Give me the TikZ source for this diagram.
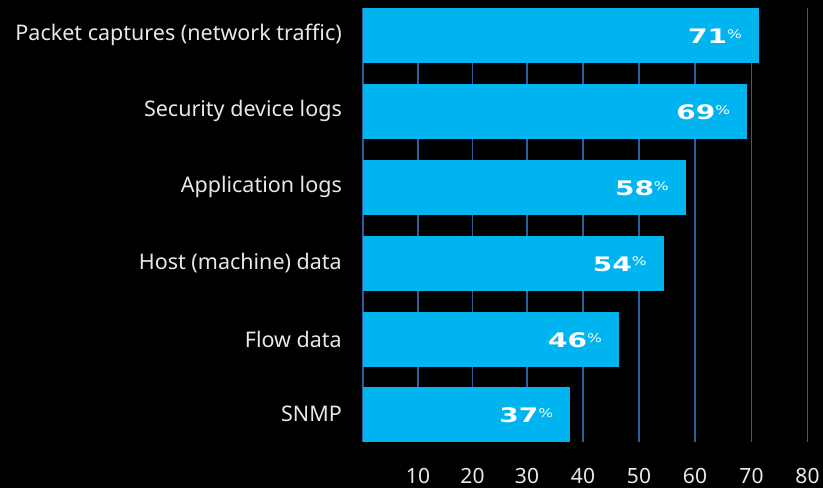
\documentclass[tikz,border=0pt]{standalone}
\usepackage{fontspec}
\setmainfont{Noto Sans}
\newfontfamily\valfont{DejaVu Sans}
\usetikzlibrary{positioning}
\definecolor{barcyan}{HTML}{00B4F0}
\definecolor{gridblue}{HTML}{2F5E9E}
\definecolor{labelgray}{HTML}{E8E8E8}
\newcommand{\pct}[1]{\scalebox{1.4}[1]{\valfont\bfseries\fontsize{20}{20}\selectfont #1}{\valfont\fontsize{12}{12}\selectfont\raisebox{5.5pt}{\scalebox{1.3}[1]{\%}}}}

\begin{document}
\begin{tikzpicture}[x=1pt, y=-1pt,
    bar/.style = {fill=barcyan, inner sep=0pt, minimum height=54.7pt, anchor=west},
    cat/.style = {text=labelgray, font=\fontsize{21.5}{21.5}\selectfont, inner sep=0pt},
    val/.style = {text=white, inner sep=0pt, anchor=east},
    tick/.style = {text=labelgray, font=\fontsize{21}{21}\selectfont, inner sep=0pt},
    gridline/.style = {draw=gridblue, line width=1.3pt}]
    \useasboundingbox (0,0) rectangle (823,488);
    \fill[black] (0,0) rectangle (823,488);
    % grid
    \draw[gridline] (363,8) -- (363,442);
    \draw[gridline] (418,8) -- (418,442);
    \draw[gridline] (472.5,8) -- (472.5,442);
    \draw[gridline] (527,8) -- (527,442);
    \draw[gridline] (583,8) -- (583,442);
    \draw[gridline] (639,8) -- (639,442);
    \draw[gridline] (695,8) -- (695,442);
    \draw[gridline] (751.5,8) -- (751.5,442);
    \draw[gridline] (807.5,8) -- (807.5,442);
    \node[tick] (t10) at (418,476) {10};
    \node[tick] (t20) at (472.5,476) {20};
    \node[tick] (t30) at (527,476) {30};
    \node[tick] (t40) at (583,476) {40};
    \node[tick] (t50) at (639,476) {50};
    \node[tick] (t60) at (695,476) {60};
    \node[tick] (t70) at (751.5,476) {70};
    \node[tick] (t80) at (807.5,476) {80};
    % bars
    \node[bar, minimum width=395.7pt] (b1) at (363,35.3) {};
    \node[bar, minimum width=384pt] (b2) at (363,111.3) {};
    \node[bar, minimum width=322.6pt] (b3) at (363,187.3) {};
    \node[bar, minimum width=300.4pt] (b4) at (363,263.3) {};
    \node[bar, minimum width=255.7pt] (b5) at (363,339.3) {};
    \node[bar, minimum width=207pt] (b6) at (363,414.3) {};
    \node[val] (v1) at ([xshift=-17pt,yshift=-1pt]b1.east) {\pct{71}};
    \node[val] (v2) at ([xshift=-17pt,yshift=-1pt]b2.east) {\pct{69}};
    \node[val] (v3) at ([xshift=-17pt,yshift=-1pt]b3.east) {\pct{58}};
    \node[val] (v4) at ([xshift=-17pt,yshift=-1pt]b4.east) {\pct{54}};
    \node[val] (v5) at ([xshift=-17pt,yshift=-1pt]b5.east) {\pct{46}};
    \node[val] (v6) at ([xshift=-17pt,yshift=-1pt]b6.east) {\pct{37}};
    % categories
    \node[cat, left=21pt of b1.west] (c1) {Packet captures (network traffic)};
    \node[cat, left=21pt of b2.west] (c2) {Security device logs};
    \node[cat, left=21pt of b3.west] (c3) {Application logs};
    \node[cat, left=21pt of b4.west] (c4) {Host (machine) data};
    \node[cat, left=21pt of b5.west] (c5) {Flow data};
    \node[cat, left=21pt of b6.west] (c6) {SNMP};
\end{tikzpicture}
\end{document}
